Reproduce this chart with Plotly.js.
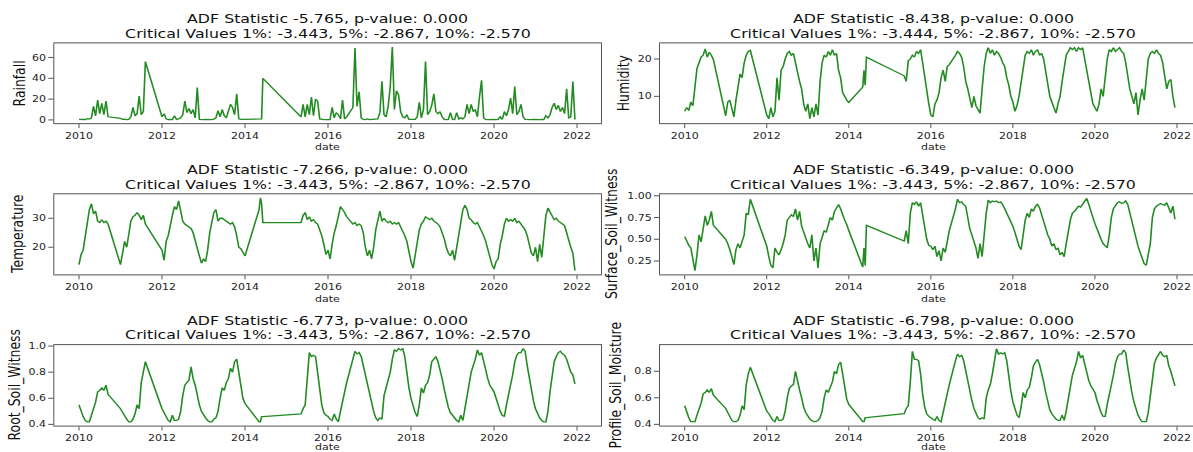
<!DOCTYPE html>
<html><head><meta charset="utf-8">
<script src="https://cdn.plot.ly/plotly-3.0.1.min.js"></script>
<style>
html,body{margin:0;padding:0;width:1193px;height:452px;overflow:hidden;background:#fff;}
#chart{width:1210px;height:565px;transform:scale(1,0.8);transform-origin:0 0;}
</style></head><body><div id="chart"></div>
<script>
// decimal-year sample dates (gaps in the record are joined by straight lines)
const dates = [
2010.00,2010.05,2010.10,2010.15,2010.20,2010.25,2010.30,2010.35,2010.40,2010.45,2010.50,2010.55,2010.60,2010.65,2010.70,
2011.00,2011.05,2011.10,2011.15,2011.20,2011.25,2011.30,2011.35,2011.40,2011.45,2011.50,2011.55,2011.60,
2012.00,2012.05,2012.10,2012.15,2012.20,2012.25,2012.30,2012.35,2012.40,2012.45,2012.50,2012.55,2012.60,2012.65,2012.70,2012.75,2012.80,2012.85,2012.90,2012.95,
2013.00,2013.05,2013.10,2013.15,2013.20,2013.25,2013.30,2013.35,2013.40,2013.45,2013.50,2013.55,2013.60,2013.65,2013.70,2013.75,2013.80,2013.85,2013.90,2013.95,
2014.00,
2014.34,2014.37,2014.40,2014.43,
2015.35,2015.40,2015.45,2015.50,2015.55,2015.60,2015.65,2015.70,2015.75,2015.80,2015.85,2015.90,2015.95,
2016.00,2016.05,2016.10,2016.15,2016.20,2016.25,2016.30,2016.35,2016.40,2016.45,
2016.60,2016.65,2016.70,2016.75,2016.80,2016.85,2016.90,2016.95,
2017.00,2017.05,2017.10,2017.15,2017.20,2017.25,2017.30,2017.35,2017.40,2017.45,2017.50,2017.55,2017.60,2017.65,2017.70,2017.75,2017.80,2017.85,2017.90,2017.95,
2018.00,2018.05,2018.10,2018.15,2018.20,2018.25,2018.30,2018.35,2018.40,2018.45,2018.50,2018.55,2018.60,2018.65,2018.70,2018.75,2018.80,2018.85,2018.90,2018.95,
2019.00,2019.05,2019.10,2019.15,2019.20,2019.25,2019.30,2019.35,2019.40,2019.45,2019.50,2019.55,2019.60,2019.65,2019.70,2019.75,2019.80,2019.85,2019.90,2019.95,
2020.00,2020.05,2020.10,2020.15,2020.20,2020.25,2020.30,2020.35,2020.40,2020.45,2020.50,2020.55,2020.60,2020.65,2020.70,2020.75,2020.80,2020.85,2020.90,2020.95,
2021.00,2021.05,2021.10,2021.15,2021.20,2021.25,2021.30,2021.35,2021.40,2021.45,2021.50,2021.55,2021.60,2021.65,2021.70,2021.75,2021.80,2021.85,2021.90,2021.95
];

const rainfall = [
0.5,0.3,0.6,0.4,1.2,0.8,2,13,4,19,6,16,5,18,3,
1.5,0.5,0.8,0.3,0.5,3,12,4,6,23,5,8,56,
3,6,1,0.3,0.5,0.3,4,0.5,1,2,5,18,7,11,6,10,2,31,0.5,0.3,
0.3,0.5,0.3,0.5,0.3,0.8,2,9,3,10,4,2,8,15,12,5,25,1,0.5,0.5,
0.5,
0.5,0.8,1,40,
3,15,3,15,5,22,4,20,18,1,0.5,0.3,0.3,
0.5,0.3,12,2,7,5,1,19,1,3,
12,69,13,27,2,0.5,0.3,1,
0.3,0.5,0.3,0.5,1,7,37,5,3,13,32,70,10,28,24,8,3,2,5,0.5,
0.5,0.3,0.5,3,17,2,10,56,5,8,14,25,8,6,8,3,0.5,0.3,0.5,7,
0.5,0.3,7,1,2,1,3,15,6,15,8,10,3,22,38,2,0.5,0.3,0.5,0.3,
0.5,0.3,0.5,3,0.5,8,4,10,21,6,32,5,8,15,3,0.5,0.3,0.5,0.3,0.5,
0.3,0.5,0.3,0.5,0.3,4,2,5,12,16,10,14,8,12,6,30,2,3,37,0.5
];

const humidity = [
6,7,6.2,8.5,7.5,12,17.5,19,20.5,21,22.7,20.5,21.8,21,19.8,
4.8,8.5,9,7,4.5,9,12,16,15,19,21,22,22.3,
5,4,7,4.5,6,15,9,17,18,20,21.5,22,21,21.5,19,16,14,12,8,6,
8,4,7,4.5,8,5,14,19,21,20.5,22,21,22.5,21,21.5,17,15,11,10,9,
8.4,
12.5,17,13,20.5,
15.5,14,19.5,20,21,20.5,22,21.5,22.5,19,15,12,8,
5,4.5,8,9,11,15,17,14,18,18.5,
21,22,21.5,20.5,18,14,12,9,
7,10,7.5,6.5,5.5,12,18,21.5,23,21.5,22.5,21,22,21.5,20.5,19,18,15,13,10,
8.5,6,7.5,10,14,18,21,22,21.5,22.5,21,22,22.5,21,21.5,20,17,14,10,8.5,
7,5.5,8,10,14,18,21,22,23,22.5,23,22,23,22.5,23,20,17,13,10,8,
7,6,8,12,10,16,20,22.5,22,23,22,22.5,23,22,21.5,19,15,12,10,8,
11,5,9,12,9,15,20,21.5,22,21.5,22.5,21.5,21,19,16,12,14,14.5,10,7
];

const temperature = [
14,17.5,19,23.5,27,33,35,31.5,32.5,29,28.5,29.5,28.5,29,28,
14,18,22,20,25,29,30.5,31,32,31,29.5,31,28,
19,15.5,22,24,28,31,34,33,36,32,29,28,27.5,27,26.5,25,22,20,17,14.5,
16,15,19,25,28,32,33,29,30,30,29.5,29,28.5,28,28.5,27,24,20,19.5,18,
17,
33,37,35,28.5,
28.5,31,32,29.5,30.5,29,29.5,28.5,28,26,24,21,17.5,
19,16,21,25,27.5,31,34,33,32,30.5,
28,28.5,27.5,28,27.5,25,20,17,
19,16,20,26,29,32.5,29,30,29,28.5,29,28,28.5,28,28.5,27,26,24,22,18,
15,12.8,17,22,26,28,29,30.5,30,29.5,30,29,28.5,28,27,25,23,20,18,17,
19,15.5,20,25,30,33,34.5,33,30,29.5,28.5,28,28.5,27,26,24,22,19,16,14,
12.5,15,16,21,24,28,30,29,29.5,29,30,28.5,29,28,27,26,24,21,18,17,
20,15,21,16.5,24,31,33.5,32,30.5,29.5,30,29,28.5,28,27.5,25,22,20,18,12
];

const surfaceSoil = [
0.53,0.47,0.43,0.40,0.27,0.14,0.32,0.55,0.47,0.63,0.77,0.66,0.72,0.82,0.66,
0.50,0.45,0.38,0.30,0.21,0.38,0.45,0.40,0.48,0.55,0.80,0.78,0.96,
0.42,0.30,0.20,0.17,0.40,0.35,0.32,0.38,0.45,0.55,0.72,0.75,0.78,0.76,0.85,0.72,0.82,0.65,0.58,0.50,
0.45,0.40,0.55,0.25,0.40,0.17,0.45,0.52,0.60,0.58,0.68,0.75,0.72,0.82,0.86,0.90,0.85,0.78,0.72,0.67,
0.60,
0.18,0.40,0.20,0.66,
0.48,0.60,0.45,0.80,0.92,0.90,0.93,0.88,0.92,0.78,0.65,0.50,0.43,
0.42,0.38,0.42,0.30,0.37,0.25,0.40,0.35,0.50,0.60,
0.85,0.96,0.92,0.93,0.90,0.88,0.75,0.62,
0.55,0.48,0.40,0.28,0.45,0.30,0.55,0.80,0.95,0.92,0.94,0.93,0.94,0.92,0.93,0.90,0.85,0.80,0.75,0.70,
0.65,0.58,0.50,0.42,0.38,0.55,0.72,0.80,0.75,0.85,0.82,0.88,0.90,0.86,0.78,0.72,0.62,0.55,0.50,0.42,
0.45,0.38,0.40,0.32,0.35,0.30,0.45,0.60,0.72,0.80,0.82,0.85,0.88,0.87,0.90,0.93,0.97,0.90,0.82,0.75,
0.68,0.62,0.55,0.50,0.45,0.43,0.40,0.55,0.75,0.85,0.88,0.92,0.93,0.91,0.92,0.94,0.90,0.80,0.70,0.60,
0.50,0.42,0.35,0.28,0.22,0.20,0.32,0.45,0.75,0.85,0.88,0.90,0.91,0.90,0.89,0.92,0.86,0.80,0.88,0.73
];

const rootSoil = [
0.55,0.50,0.46,0.43,0.42,0.42,0.47,0.52,0.57,0.65,0.66,0.68,0.66,0.70,0.63,
0.52,0.49,0.46,0.44,0.42,0.42,0.44,0.48,0.55,0.52,0.72,0.80,0.88,
0.52,0.49,0.46,0.43,0.42,0.47,0.43,0.43,0.44,0.50,0.62,0.70,0.72,0.74,0.84,0.75,0.70,0.62,0.55,0.50,
0.47,0.45,0.43,0.42,0.42,0.44,0.45,0.50,0.60,0.68,0.66,0.72,0.75,0.83,0.80,0.88,0.90,0.80,0.68,0.60,
0.56,
0.42,0.42,0.46,0.46,
0.48,0.52,0.55,0.75,0.95,0.92,0.93,0.92,0.80,0.65,0.55,0.49,0.47,
0.46,0.44,0.43,0.48,0.44,0.42,0.50,0.58,0.65,0.72,
0.90,0.96,0.94,0.95,0.92,0.85,0.78,0.70,
0.62,0.55,0.50,0.45,0.43,0.45,0.44,0.62,0.68,0.72,0.80,0.90,0.97,0.96,0.98,0.97,0.98,0.92,0.78,0.68,
0.60,0.54,0.49,0.46,0.55,0.68,0.64,0.70,0.72,0.78,0.88,0.90,0.92,0.88,0.82,0.75,0.67,0.60,0.53,0.49,
0.47,0.45,0.43,0.42,0.47,0.43,0.52,0.60,0.70,0.80,0.85,0.90,0.97,0.93,0.95,0.88,0.80,0.75,0.70,0.67,
0.65,0.60,0.55,0.50,0.47,0.46,0.55,0.62,0.70,0.78,0.88,0.93,0.95,0.95,0.98,0.96,0.85,0.75,0.65,0.58,
0.52,0.48,0.45,0.43,0.42,0.42,0.50,0.65,0.78,0.88,0.92,0.95,0.96,0.94,0.93,0.90,0.85,0.80,0.78,0.71
];

const profileSoil = [
0.54,0.49,0.45,0.42,0.42,0.42,0.47,0.51,0.56,0.63,0.64,0.66,0.64,0.67,0.62,
0.52,0.49,0.46,0.43,0.42,0.42,0.43,0.47,0.54,0.51,0.70,0.78,0.83,
0.50,0.48,0.45,0.43,0.42,0.46,0.43,0.43,0.44,0.50,0.60,0.67,0.69,0.70,0.80,0.72,0.66,0.60,0.53,0.49,
0.46,0.44,0.43,0.42,0.42,0.43,0.45,0.50,0.60,0.66,0.64,0.68,0.72,0.80,0.78,0.85,0.87,0.78,0.67,0.59,
0.55,
0.42,0.42,0.45,0.45,
0.48,0.52,0.54,0.72,0.95,0.89,0.89,0.88,0.78,0.63,0.53,0.48,0.46,
0.45,0.44,0.43,0.46,0.43,0.42,0.48,0.56,0.63,0.70,
0.88,0.93,0.91,0.92,0.88,0.80,0.73,0.66,
0.58,0.52,0.48,0.45,0.44,0.45,0.44,0.60,0.66,0.70,0.78,0.88,0.97,0.93,0.94,0.93,0.94,0.88,0.75,0.65,
0.57,0.51,0.47,0.45,0.53,0.64,0.60,0.66,0.68,0.75,0.84,0.87,0.89,0.85,0.79,0.72,0.64,0.57,0.51,0.48,
0.46,0.44,0.43,0.43,0.47,0.43,0.50,0.58,0.68,0.77,0.82,0.87,0.95,0.90,0.92,0.85,0.78,0.73,0.69,0.66,
0.64,0.58,0.53,0.49,0.46,0.46,0.55,0.62,0.70,0.77,0.86,0.91,0.93,0.93,0.96,0.94,0.83,0.73,0.64,0.57,
0.51,0.47,0.44,0.42,0.42,0.42,0.49,0.63,0.76,0.86,0.90,0.93,0.95,0.92,0.91,0.92,0.84,0.80,0.75,0.69
];

const seriesNames = ['Rainfall','Humidity','Temperature','Surface_Soil_Witness','Root_Soil_Witness','Profile_Soil_Moisture'];
const adfStat = ['-5.765','-8.438','-7.266','-6.349','-6.773','-6.798'];
const pValue = ['0.000','0.000','0.000','0.000','0.000','0.000'];
const crit1 = ['-3.443','-3.444','-3.443','-3.443','-3.443','-3.443'];
const crit5 = ['-2.867','-2.867','-2.867','-2.867','-2.867','-2.867'];
const crit10 = ['-2.570','-2.570','-2.570','-2.570','-2.570','-2.570'];
const xTickVals = [2010,2012,2014,2016,2018,2020,2022];

const seriesValues = [rainfall, humidity, temperature, surfaceSoil, rootSoil, profileSoil];

// layout / style settings
const FONT = 'DejaVu Sans, Verdana, sans-serif';
const W = 1210, H = 565;
const xDom = [[0.04488,0.49669],[0.54545,0.98760]];
const xRanges = [[2009.405,2022.578],[2009.398,2022.439]];
const titleCX = [327.65/W, 933.3/W];
const yDom = [[0.7273,0.9042],[0.3927,0.5704],[0.0582,0.2367]];
const yRanges = [[-3.2,73.6],[2.8,24.2],[10.6,38.3],[0.095,1.018],[0.39,1.008],[0.39,0.998]];
const yDticks = [20,10,10,0.25,0.2,0.2];
const yFormats = ['d','d','d','.2f','.1f','.1f'];
const yTitleX = [20,624,17.5,613,16,617];
const dateShift = [-30,-30,-30,-30,-26.5,-26.5];
const AXC = '#404040';

const data = [];
const layout = {
  width: W, height: H,
  margin: {l:0,r:0,t:0,b:0,pad:0},
  paper_bgcolor: '#fff', plot_bgcolor: '#fff',
  showlegend: false,
  font: {family: FONT, color: '#222'},
  annotations: []
};

for (let i = 0; i < 6; i++) {
  const col = i % 2, row = Math.floor(i / 2);
  const sfx = i === 0 ? '' : String(i + 1);
  data.push({
    type: 'scatter', mode: 'lines',
    x: dates, y: seriesValues[i],
    xaxis: 'x' + sfx, yaxis: 'y' + sfx,
    line: {color: '#228B22', width: 1.6},
    hoverinfo: 'skip'
  });
  const common = {
    showline: true, mirror: true, linecolor: AXC, linewidth: 1,
    ticks: 'outside', ticklen: 5, tickwidth: 1, tickcolor: AXC,
    showgrid: false, zeroline: false,
    tickfont: {family: FONT, size: 11, color: '#262626'}
  };
  layout['xaxis' + sfx] = Object.assign({}, common, {
    domain: xDom[col], anchor: 'y' + sfx,
    range: xRanges[col], tickmode: 'array', tickvals: xTickVals,
    tickformat: 'd'
  });
  layout['yaxis' + sfx] = Object.assign({}, common, {
    domain: yDom[row], anchor: 'x' + sfx,
    range: yRanges[i], tick0: 0, dtick: yDticks[i], tickformat: yFormats[i]
  });
  const cx = titleCX[col];
  const top = yDom[row][1], bot = yDom[row][0];
  layout.annotations.push({
    xref: 'paper', yref: 'paper', x: cx, y: top, yshift: 30.5,
    xanchor: 'center', yanchor: 'middle', showarrow: false,
    text: 'ADF Statistic ' + adfStat[i] + ', p-value: ' + pValue[i],
    font: {family: FONT, size: 15.8, color: '#111'}
  });
  layout.annotations.push({
    xref: 'paper', yref: 'paper', x: cx, y: top, yshift: 12.5,
    xanchor: 'center', yanchor: 'middle', showarrow: false,
    text: 'Critical Values 1%: ' + crit1[i] + ', 5%: ' + crit5[i] + ', 10%: ' + crit10[i],
    font: {family: FONT, size: 15.8, color: '#111'}
  });
  layout.annotations.push({
    xref: 'paper', yref: 'paper', x: cx, y: bot, yshift: dateShift[i],
    xanchor: 'center', yanchor: 'middle', showarrow: false,
    text: 'date', font: {family: FONT, size: 11, color: '#222'}
  });
  layout.annotations.push({
    xref: 'paper', yref: 'paper', x: yTitleX[i] / W, y: (top + bot) / 2,
    xanchor: 'center', yanchor: 'middle', showarrow: false, textangle: -90,
    text: seriesNames[i], font: {family: FONT, size: 15.5, color: '#111'}
  });
}

Plotly.newPlot('chart', data, layout, {staticPlot: true, displayModeBar: false});
</script></body></html>
